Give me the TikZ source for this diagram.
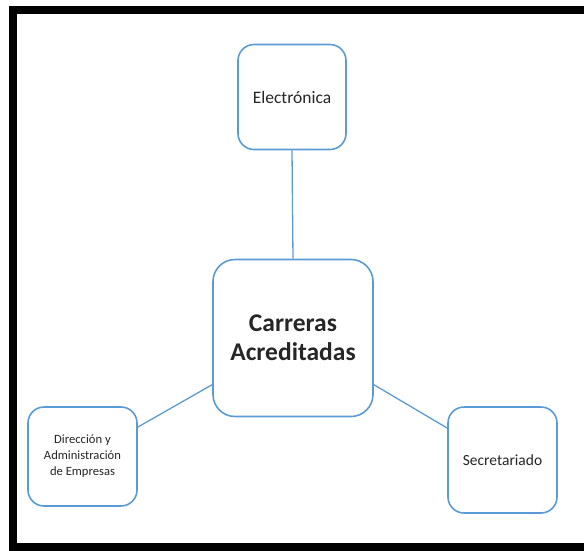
\documentclass[tikz,border=0pt]{standalone}
\usepackage{fontspec}
\setmainfont{Carlito}
\usepackage{tikz}
\usetikzlibrary{positioning}
\definecolor{azul}{RGB}{91,155,213}
\tikzset{
caja/.style = {rectangle, rounded corners=16pt, draw=azul, line width=1.6pt, fill=white, align=center, inner sep=2pt, text=black!85},% caja de carrera
caja_c/.style = {caja, rounded corners=22pt, font=\fontsize{25.5}{29}\selectfont\bfseries, minimum width=160pt, minimum height=157pt},% caja central
enlace/.style = {draw=azul, line width=1.3pt}
}
\begin{document}
\begin{tikzpicture}[x=1pt,y=-1pt]
  \useasboundingbox (0,0) rectangle (584,550);
  % marco
  \draw[line width=8pt] (600,10) -- (13,10) -- (13,546.5) -- (600,546.5);
  \node [caja_c] (centro) at (293,338) {Carreras\\Acreditadas};
  \node [caja, minimum width=108pt, minimum height=105pt, font=\fontsize{17.5}{20}\selectfont] (elec) at (292,97) {Electrónica};
  \node [caja, minimum width=109pt, minimum height=99pt, font=\fontsize{12.6}{16}\selectfont] (dir) at (82.5,456.5) {Dirección y\\Administración\\de Empresas};
  \node [caja, minimum width=109pt, minimum height=106pt, font=\fontsize{15.5}{18}\selectfont] (sec) at (502.5,460) {Secretariado};
  \draw [enlace] (elec.south) -- (centro.north);
  \draw [enlace] (centro.210) -- (dir.28);
  \draw [enlace] (centro.330) -- (sec.150);
\end{tikzpicture}
\end{document}
